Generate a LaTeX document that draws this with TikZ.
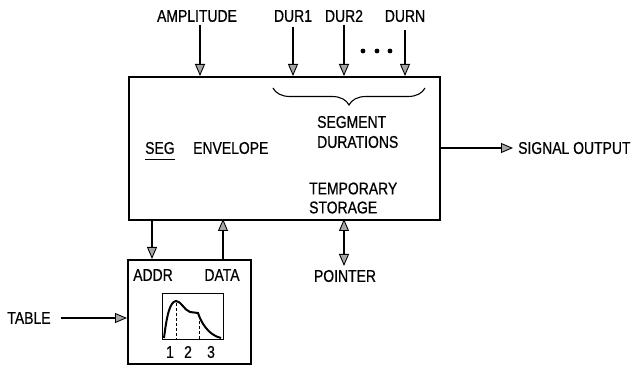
\documentclass[tikz,border=0pt]{standalone}
\usepackage{fontspec}
\setmainfont{Liberation Sans}
\newfontfamily\lblfont[FakeStretch=0.82,FakeBold=0.6]{Liberation Sans}
\usetikzlibrary{arrows.meta,decorations.pathreplacing}
\begin{document}
\begin{tikzpicture}[x=1pt,y=-1pt,
  lbl/.style={font=\lblfont\fontsize{17}{19}\selectfont, inner sep=0pt},
  boxline/.style={draw, line width=1.6pt, inner sep=0pt},
  ln/.style={line width=1.5pt},
  tipA/.tip={Triangle[length=12pt,width=10pt,fill=gray!70,line width=0.9pt]},
  arr/.style={ln, -tipA},
  darr/.style={ln, tipA-tipA}]
\useasboundingbox (0,0) rectangle (635,366);
% main box
\node[boxline, minimum width=311pt, minimum height=143pt, anchor=north west] (main) at (128,76) {};
% top inputs
\node[lbl] (amp) at (197,16) {AMPLITUDE};
\node[lbl] (dur1) at (293,16) {DUR1};
\node[lbl] (dur2) at (344,16) {DUR2};
\node[lbl] (durn) at (405,16) {DURN};
\coordinate (ampin) at (200,76);
\coordinate (d1in) at (293,76);
\coordinate (d2in) at (344,76);
\coordinate (dnin) at (405,76);
\coordinate (ampout) at (200,25);
\coordinate (d1out) at (293,27);
\coordinate (d2out) at (344,25);
\coordinate (dnout) at (405,30);
\draw[arr] (ampout) -- (ampin);
\draw[arr] (d1out) -- (d1in);
\draw[arr] (d2out) -- (d2in);
\draw[arr] (dnout) -- (dnin);
\foreach \x in {363,377,390} \fill (\x,51) circle (2.4pt);
% brace
\draw[line width=1.1pt, decorate, decoration={brace, amplitude=17pt, mirror}] (273,88) -- (425,88);
% inner labels
\node[lbl, anchor=west, align=left, font=\lblfont\fontsize{17}{20}\selectfont] (segdur) at (317,132) {SEGMENT\\DURATIONS};
\node[lbl, anchor=west] (seg) at (145,148) {SEG};
\draw[line width=1.1pt] ([yshift=-5pt]seg.south west) -- ([yshift=-5pt]seg.south east);
\node[lbl, anchor=west] (env) at (193,148) {ENVELOPE};
\node[lbl, anchor=west, align=left] (tmp) at (309,198) {TEMPORARY\\STORAGE};
% signal output
\node[lbl, anchor=west] (out) at (518,148) {SIGNAL OUTPUT};
\coordinate (outsrc) at (439,148);
\draw[arr] (outsrc) -- ([xshift=-5pt]out.west);
% pointer
\node[lbl] (ptr) at (345,276) {POINTER};
\coordinate (ptrtop) at (344,219);
\coordinate (ptrbot) at (344,266);
\draw[darr] (ptrtop) -- (ptrbot);
% table box
\node[boxline, minimum width=123pt, minimum height=104pt, anchor=north west] (tbl) at (127,259) {};
\coordinate (addrtop) at (152,219);
\coordinate (datatop) at (223,219);
\draw[arr] (addrtop) -- (addrtop |- tbl.north);
\draw[arr] (datatop |- tbl.north) -- (datatop);
\node[lbl] (addr) at (153,275) {ADDR};
\node[lbl] (data) at (222,275) {DATA};
% TABLE input
\node[lbl] (table) at (29,318) {TABLE};
\draw[arr] ([xshift=10pt]table.east) -- (tbl.west |- table.east);
% inner graph
\node[draw, line width=1.1pt, inner sep=0pt, minimum width=61pt, minimum height=46pt, anchor=north west] (graph) at (162,293) {};
\draw[line width=2pt] (164,338) .. controls (167,314) and (170,302) .. (176,301)
   .. controls (181,301) and (184,310) .. (190,312) -- (198,313)
   .. controls (201,322) and (208,335) .. (221,338);
\draw[line width=1pt, dash pattern=on 3pt off 2pt] (176,303) -- (176,339);
\draw[line width=1pt, dash pattern=on 3pt off 2pt] (199,316) -- (199,339);
\node[lbl] (n1) at (170,352) {1};
\node[lbl] (n2) at (188,352) {2};
\node[lbl] (n3) at (211,352) {3};
\end{tikzpicture}
\end{document}
